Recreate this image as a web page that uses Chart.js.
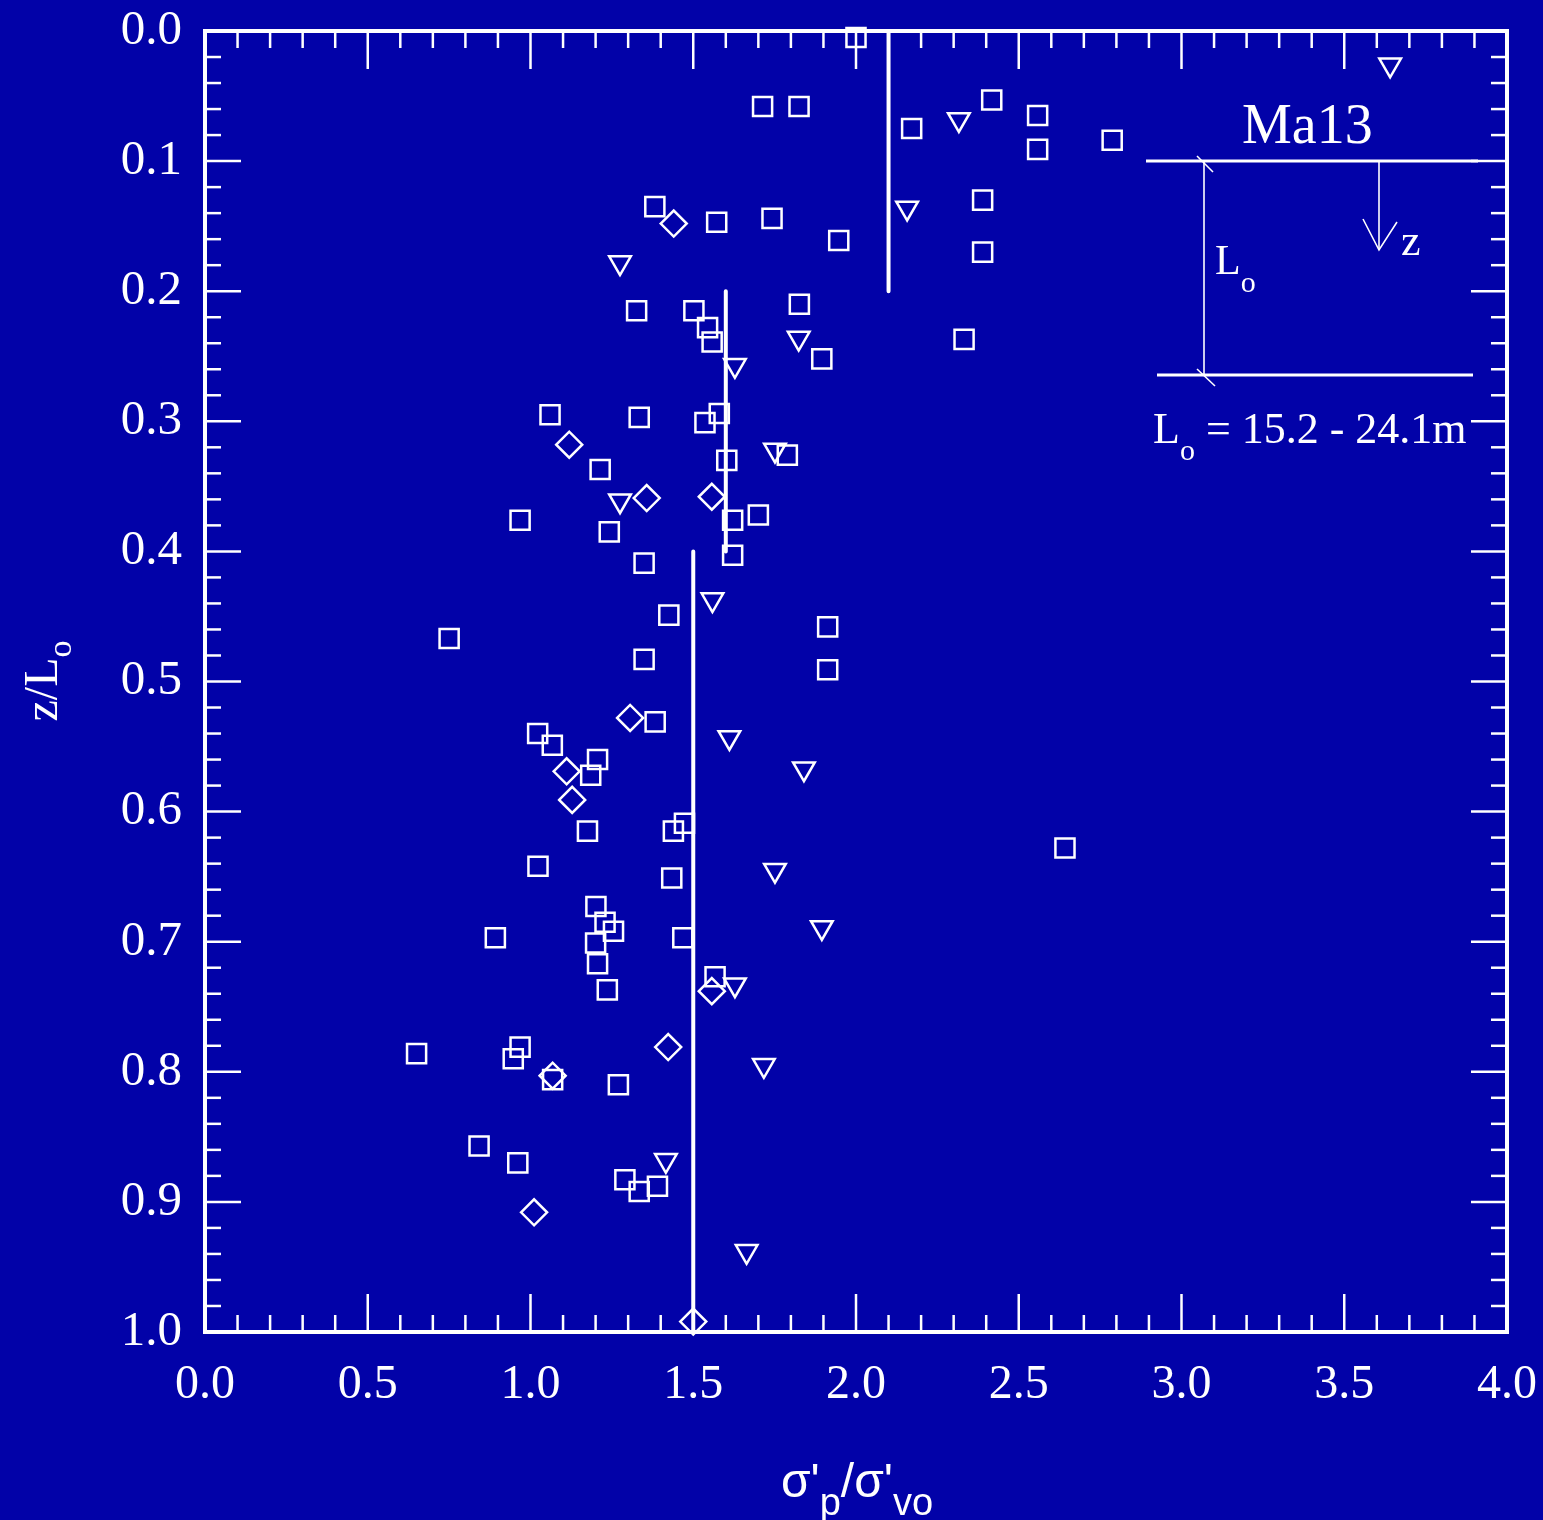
<!DOCTYPE html>
<html>
<head>
<meta charset="utf-8">
<script src="https://cdn.jsdelivr.net/npm/chart.js@4.4.1/dist/chart.umd.min.js"></script>
<style>
  html, body { margin: 0; padding: 0; background: #0202a8; }
  canvas { display: block; }
</style>
</head>
<body>
<canvas id="chart" width="1543" height="1520"></canvas>
<script>
// Tick labels
const xTickLabels = ['0.0', '0.5', '1.0', '1.5', '2.0', '2.5', '3.0', '3.5', '4.0'];
const yTickLabels = ['0.0', '0.1', '0.2', '0.3', '0.4', '0.5', '0.6', '0.7', '0.8', '0.9', '1.0'];

// Square symbols: sigma'p/sigma'vo vs z/Lo
const squareX = [2.00, 1.713, 1.825, 2.417, 2.558, 2.558, 2.171, 2.787, 2.389, 2.389,
  1.382, 1.572, 1.742, 1.947, 1.326, 1.502, 1.544, 1.558, 1.826, 1.895, 2.332,
  1.060, 1.334, 1.536, 1.580, 1.603, 1.789, 1.214, 1.621, 1.700, 0.968, 1.242,
  1.621, 1.349, 1.425, 0.750, 1.349, 1.913, 1.913, 1.383, 1.022, 1.067, 1.206,
  1.185, 1.175, 1.473, 1.439, 1.023, 1.434, 1.201, 1.229, 1.255, 1.200, 0.892,
  1.468, 1.206, 1.236, 1.567, 2.642, 0.650, 0.968, 0.947, 1.068, 1.270, 0.842,
  0.961, 1.290, 1.334, 1.390];
const squareY = [0.005, 0.058, 0.058, 0.053, 0.065, 0.091, 0.075, 0.084, 0.130, 0.170,
  0.135, 0.147, 0.144, 0.161, 0.215, 0.215, 0.228, 0.239, 0.210, 0.252, 0.237,
  0.295, 0.297, 0.301, 0.294, 0.330, 0.326, 0.337, 0.376, 0.372, 0.376, 0.385,
  0.403, 0.409, 0.449, 0.467, 0.483, 0.458, 0.491, 0.531, 0.540, 0.549, 0.560,
  0.572, 0.615, 0.609, 0.615, 0.642, 0.651, 0.673, 0.685, 0.692, 0.701, 0.697,
  0.697, 0.717, 0.737, 0.727, 0.628, 0.786, 0.781, 0.790, 0.806, 0.810, 0.857,
  0.870, 0.883, 0.892, 0.888];

// Diamond symbols
const diamondX = [1.440, 1.119, 1.357, 1.557, 1.306, 1.111, 1.128, 1.557, 1.423, 1.068, 1.011, 1.500];
const diamondY = [0.148, 0.318, 0.359, 0.358, 0.528, 0.569, 0.591, 0.738, 0.781, 0.803, 0.908, 0.992];

// Downward triangle symbols
const triangleX = [2.316, 3.641, 2.157, 1.275, 1.824, 1.628, 1.751, 1.275, 1.559, 1.611,
  1.840, 1.751, 1.895, 1.628, 1.717, 1.416, 1.664];
const triangleY = [0.068, 0.026, 0.136, 0.178, 0.236, 0.257, 0.322, 0.361, 0.437, 0.543,
  0.567, 0.645, 0.689, 0.733, 0.795, 0.868, 0.938];

// Median lines over depth bands
const medianX = [2.1, 1.6, 1.5];
const medianTop = [0.0, 0.2, 0.4];
const medianBottom = [0.2, 0.4, 1.0];

const FG = '#ffffff';
const SERIF = '"Liberation Serif", "Times New Roman", "DejaVu Serif", serif';
const SANS = '"Liberation Sans", Arial, "DejaVu Sans", sans-serif';

const toPoints = (xs, ys) => xs.map((x, i) => ({ x: x, y: ys[i] }));

const markerStyle = {
  showLine: false,
  backgroundColor: 'rgba(0,0,0,0)',
  borderColor: FG,
  borderWidth: 2.5,
  clip: false
};

const datasets = [
  Object.assign({ label: 'square', data: toPoints(squareX, squareY), pointStyle: 'rect', pointRadius: 13.5 }, markerStyle),
  Object.assign({ label: 'diamond', data: toPoints(diamondX, diamondY), pointStyle: 'rectRot', pointRadius: 13 }, markerStyle),
  Object.assign({ label: 'triangle', data: toPoints(triangleX, triangleY), pointStyle: 'triangle', pointRotation: 180, pointRadius: 12.5 }, markerStyle)
];
medianX.forEach((mx, i) => {
  datasets.push({
    label: 'median ' + (i + 1),
    data: [{ x: mx, y: medianTop[i] }, { x: mx, y: medianBottom[i] }],
    showLine: true,
    borderColor: FG,
    borderWidth: 4,
    pointRadius: 0,
    borderCapStyle: 'round',
    clip: false
  });
});

// Writes a run of text pieces [text, size, baseline shift, family] starting at x on baseline y
function fontOf(p) { return p[1] + 'px ' + (p[3] || SERIF); }
function runWidth(ctx, parts) {
  let w = 0;
  parts.forEach(p => { ctx.font = fontOf(p); w += ctx.measureText(p[0]).width; });
  return w;
}
function drawRun(ctx, parts, x, y) {
  let cx = x;
  parts.forEach(p => {
    ctx.font = fontOf(p);
    ctx.fillText(p[0], cx, y + p[2]);
    cx += ctx.measureText(p[0]).width;
  });
}
function seg(ctx, x1, y1, x2, y2) {
  ctx.beginPath(); ctx.moveTo(x1, y1); ctx.lineTo(x2, y2); ctx.stroke();
}

const framePlugin = {
  id: 'frame',
  afterDatasetsDraw(chart) {
    const { ctx, chartArea: a } = chart;
    const xs = chart.scales.x, ys = chart.scales.y;
    ctx.save();
    ctx.strokeStyle = FG;
    ctx.fillStyle = FG;
    ctx.lineCap = 'butt';

    // inward ticks on all four sides
    ctx.lineWidth = 2.5;
    for (let i = 1; i < 40; i++) {
      const px = xs.getPixelForValue(i / 10);
      const len = i % 5 === 0 ? 38 : 17;
      seg(ctx, px, a.bottom, px, a.bottom - len);
      seg(ctx, px, a.top, px, a.top + len);
    }
    for (let i = 1; i < 50; i++) {
      const py = ys.getPixelForValue(i / 50);
      const len = i % 5 === 0 ? 36 : 16;
      seg(ctx, a.left, py, a.left + len, py);
      seg(ctx, a.right, py, a.right - len, py);
    }
    ctx.lineWidth = 4;
    ctx.strokeRect(a.left, a.top, a.right - a.left, a.bottom - a.top);

    // pile sketch
    ctx.lineWidth = 3;
    seg(ctx, 1146, 161, 1478, 161);
    seg(ctx, 1157, 375, 1473, 375);
    ctx.lineWidth = 1.6;
    seg(ctx, 1204, 161, 1204, 375);
    seg(ctx, 1197, 156, 1213, 172);
    seg(ctx, 1197, 369, 1215, 386);
    seg(ctx, 1379, 161, 1379, 250);
    ctx.beginPath();
    ctx.moveTo(1363, 219); ctx.lineTo(1379, 250); ctx.lineTo(1397, 222);
    ctx.stroke();

    ctx.textAlign = 'left';
    ctx.textBaseline = 'alphabetic';
    drawRun(ctx, [['Ma13', 56, 0]], 1242, 143);
    drawRun(ctx, [['z', 44, 0]], 1401, 255);
    drawRun(ctx, [['L', 42, 0], ['o', 30, 18]], 1215, 274);
    drawRun(ctx, [['L', 44, 0], ['o', 30, 17], [' = 15.2 - 24.1m', 44, 0]], 1153, 443);

    // x-axis title
    const xt = [["σ'", 48, 0, SANS], ['p', 38, 18, SANS], ["/σ'", 48, 0, SANS], ['vo', 38, 18, SANS]];
    const xw = runWidth(ctx, xt);
    drawRun(ctx, xt, 857 - xw / 2, 1497);

    // y-axis title (rotated)
    const yt = [['z/L', 48, 0], ['o', 34, 14]];
    const yw = runWidth(ctx, yt);
    ctx.translate(57, 681);
    ctx.rotate(-Math.PI / 2);
    drawRun(ctx, yt, -yw / 2, 0);

    ctx.restore();
  }
};

// keep the plot box at fixed size: drop the edge padding scales ask for
function fixScale(size, key) {
  return s => {
    s[key] = size;
    s.paddingTop = 0; s.paddingBottom = 0; s.paddingLeft = 0; s.paddingRight = 0;
  };
}

new Chart(document.getElementById('chart'), {
  type: 'scatter',
  data: { datasets: datasets },
  options: {
    responsive: false,
    animation: false,
    events: [],
    layout: { autoPadding: false, padding: { left: 0, top: 31, right: 36, bottom: 0 } },
    plugins: { legend: { display: false }, tooltip: { enabled: false } },
    scales: {
      x: {
        type: 'linear', min: 0, max: 4,
        afterFit: fixScale(188, 'height'),
        grid: { display: false, drawTicks: false },
        border: { display: false },
        ticks: {
          stepSize: 0.5, autoSkip: false, maxRotation: 0, padding: 25,
          color: FG, font: { family: SERIF, size: 48 },
          callback: v => xTickLabels[Math.round(v * 2)]
        }
      },
      y: {
        type: 'linear', min: 0, max: 1, reverse: true,
        afterFit: fixScale(205, 'width'),
        grid: { display: false, drawTicks: false },
        border: { display: false },
        ticks: {
          stepSize: 0.1, autoSkip: false, padding: 23,
          color: FG, font: { family: SERIF, size: 49 },
          callback: v => yTickLabels[Math.round(v * 10)]
        }
      }
    }
  },
  plugins: [framePlugin]
});
</script>
</body>
</html>
